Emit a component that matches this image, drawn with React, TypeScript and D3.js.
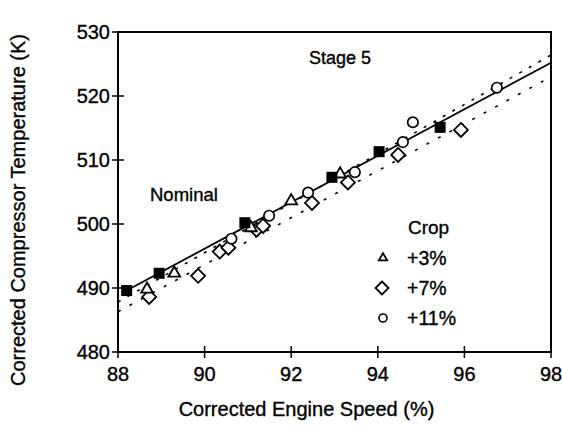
import React from "react";
import * as d3 from "d3";

const xTicks = [88, 90, 92, 94, 96, 98];
const yTicks = [480, 490, 500, 510, 520, 530];

const nominal: [number, number][] = [
  [88.2, 489.6], [88.95, 492.3], [90.93, 500.2], [92.94, 507.3], [94.03, 511.3], [95.44, 515.1],
];
const crop3: [number, number][] = [
  [88.67, 489.8], [89.3, 492.3], [91.07, 499.4], [92.0, 503.6], [93.13, 507.8],
];
const crop7: [number, number][] = [
  [88.72, 488.6], [89.85, 491.9], [90.35, 495.7], [90.55, 496.3], [91.2, 499.1], [91.35, 499.7],
  [92.48, 503.3], [93.31, 506.5], [94.47, 510.8], [95.92, 514.7],
];
const crop11: [number, number][] = [
  [90.62, 497.7], [91.49, 501.3], [92.39, 504.9], [93.47, 508.1], [94.58, 512.8], [94.81, 515.9], [96.75, 521.3],
];
const solidLine: [number, number][] = [[88.2, 489.6], [98, 525.2]];
const dottedUpper: [number, number][] = [[88, 487.8], [98, 526.4]];
const dottedLower: [number, number][] = [[88, 486.3], [98, 523.0]];

const legendItems = ["+3%", "+7%", "+11%"];

export default function App() {
  const W = 562, H = 431;
  const left = 118, right = 551, top = 32, bottom = 352;
  const x = d3.scaleLinear().domain([88, 98]).range([left, right]);
  const y = d3.scaleLinear().domain([480, 530]).range([bottom, top]);
  const line = d3.line<[number, number]>().x(d => x(d[0])).y(d => y(d[1]));
  const font = "'Liberation Sans', Arial, sans-serif";
  const tri = d3.symbol().type(d3.symbolTriangle).size(60)()!;
  const diamond = (s: number) => `M0,${-s}L${s},0L0,${s}L${-s},0Z`;
  const ts = { stroke: "#000", strokeWidth: 0.35 } as const;

  return (
    <svg width={W} height={H} style={{ position: "absolute", left: 0, top: 0 }} fontFamily={font}>
      <rect width={W} height={H} fill="#fff" />
      {/* frame */}
      <rect x={left} y={top} width={right - left} height={bottom - top} fill="none" stroke="#000" strokeWidth={2} />
      {xTicks.map(t => (
        <g key={"x" + t}>
          <line x1={x(t)} x2={x(t)} y1={bottom - 6} y2={bottom + 6} stroke="#000" strokeWidth={1.5} />
          <text x={x(t)} y={bottom + 29} textAnchor="middle" fontSize={20} {...ts}>{t}</text>
        </g>
      ))}
      {yTicks.map(t => (
        <g key={"y" + t}>
          <line x1={left - 6} x2={left + 6} y1={y(t)} y2={y(t)} stroke="#000" strokeWidth={1.5} />
          <text x={left - 8} y={y(t) + 7} textAnchor="end" fontSize={20} {...ts}>{t}</text>
        </g>
      ))}
      <text x={(left + right) / 2 - 28} y={416} textAnchor="middle" fontSize={20} {...ts}>Corrected Engine Speed (%)</text>
      <text transform={`translate(25, ${(top + bottom) / 2 + 18}) rotate(-90)`} textAnchor="middle" fontSize={20} {...ts}>
        Corrected Compressor Temperature (K)
      </text>
      <text x={340} y={64} textAnchor="middle" fontSize={18} {...ts}>Stage 5</text>
      <text x={150} y={201} fontSize={18.5} {...ts}>Nominal</text>

      {/* lines */}
      <path d={line(dottedUpper)!} stroke="#000" strokeWidth={1.6} strokeDasharray="3,8" fill="none" />
      <path d={line(dottedLower)!} stroke="#000" strokeWidth={1.6} strokeDasharray="3,10" fill="none" />
      <path d={line(solidLine)!} stroke="#000" strokeWidth={1.8} fill="none" />

      {/* markers */}
      {crop7.map((d, i) => (
        <path key={"d" + i} d={diamond(7)} transform={`translate(${x(d[0])},${y(d[1])})`} fill="#fff" stroke="#000" strokeWidth={1.8} />
      ))}
      {crop11.map((d, i) => (
        <circle key={"c" + i} cx={x(d[0])} cy={y(d[1])} r={5.2} fill="#fff" stroke="#000" strokeWidth={1.7} />
      ))}
      {crop3.map((d, i) => (
        <path key={"t" + i} d={tri} transform={`translate(${x(d[0])},${y(d[1])})`} fill="#fff" stroke="#000" strokeWidth={1.8} />
      ))}
      {nominal.map((d, i) => (
        <rect key={"n" + i} x={x(d[0]) - 5.5} y={y(d[1]) - 5.5} width={11} height={11} fill="#000" />
      ))}

      {/* legend */}
      <text x={408} y={234} fontSize={19} {...ts}>Crop</text>
      {legendItems.map((lab, i) => {
        const cy = 258 + i * 30;
        return (
          <g key={lab}>
            {i === 0 && <path d={d3.symbol().type(d3.symbolTriangle).size(30)()!} transform={`translate(383,${cy})`} fill="#fff" stroke="#000" strokeWidth={1.8} />}
            {i === 1 && <path d={diamond(6.5)} transform={`translate(382,${cy})`} fill="#fff" stroke="#000" strokeWidth={1.8} />}
            {i === 2 && <circle cx={383} cy={cy} r={4} fill="#fff" stroke="#000" strokeWidth={1.6} />}
            <text x={407} y={cy + 7} fontSize={19.5} {...ts}>{lab}</text>
          </g>
        );
      })}
    </svg>
  );
}
